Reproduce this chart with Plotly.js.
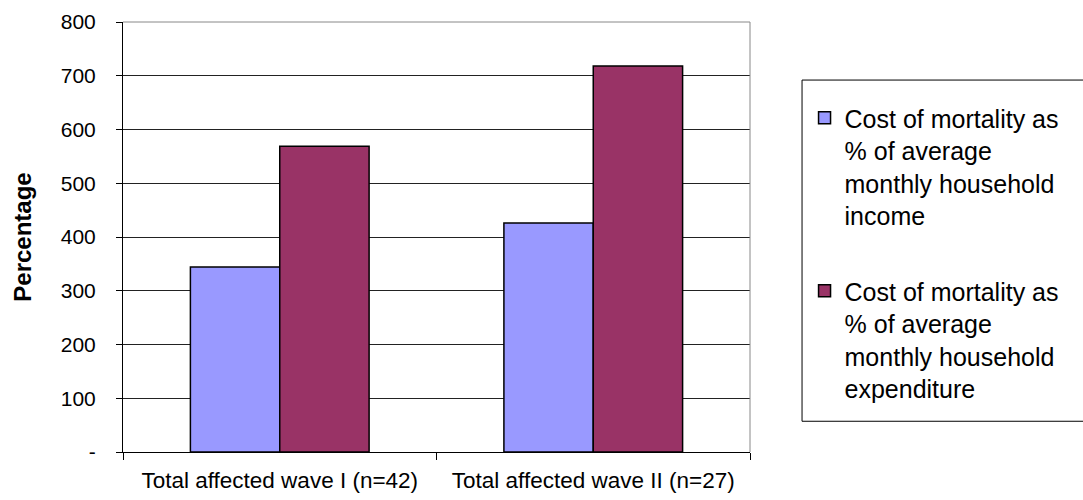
<!DOCTYPE html>
<html>
<head>
<meta charset="utf-8">
<script src="https://cdn.plot.ly/plotly-3.0.1.min.js"></script>
<style>html,body{margin:0;padding:0;background:#fff;}#chart{width:1083px;height:500px;}</style>
</head>
<body>
<div id="chart"></div>
<script>
var categories = ["Total affected wave I (n=42)", "Total affected wave II (n=27)"];
var incomeValues = [344, 426];
var expenditureValues = [569, 718];
var seriesNames = [
  "Cost of mortality as<br>% of average<br>monthly household<br>income",
  "Cost of mortality as<br>% of average<br>monthly household<br>expenditure"
];
var yTickVals = [0, 100, 200, 300, 400, 500, 600, 700, 800];
var yTickText = ["-", "100", "200", "300", "400", "500", "600", "700", "800"];

var font = "Arial, 'Liberation Sans', sans-serif";

var traces = [
  {type: "bar", x: categories, y: incomeValues, name: seriesNames[0], legendgroup: "a",
   marker: {color: "#9999FF", line: {color: "#000", width: 1.5}}},
  {type: "bar", x: categories, y: expenditureValues, name: seriesNames[1], legendgroup: "b",
   marker: {color: "#993366", line: {color: "#000", width: 1.5}}}
];

var layout = {
  width: 1083, height: 500,
  margin: {l: 123, r: 333, t: 22, b: 48, autoexpand: false},
  paper_bgcolor: "#fff", plot_bgcolor: "#fff",
  font: {family: font, size: 21, color: "#000"},
  barmode: "group", bargap: 0.43, bargroupgap: 0,
  showlegend: true,
  hovermode: false,
  xaxis: {
    type: "category", tickson: "boundaries", ticks: "outside", ticklen: 7, tickcolor: "#000",
    showline: true, linecolor: "#000", linewidth: 1, showgrid: false, zeroline: false,
    ticklabelstandoff: 8,
    tickfont: {family: font, size: 22.5, color: "#000"}
  },
  yaxis: {
    range: [0, 800], tickvals: yTickVals, ticktext: yTickText,
    ticks: "outside", ticklen: 6, tickcolor: "#000", ticklabelstandoff: 16,
    showline: true, linecolor: "#000", linewidth: 1,
    showgrid: true, gridcolor: "#222", gridwidth: 1, zeroline: false,
    tickfont: {family: font, size: 21, color: "#000"},
    title: {text: "<b>Percentage</b>", font: {family: font, size: 24, color: "#000"}, standoff: 22}
  },
  legend: {
    x: 1.087, xanchor: "left", y: 0.83, yanchor: "top",
    borderwidth: 0, bgcolor: "rgba(0,0,0,0)",
    font: {family: font, size: 25, color: "#000"},
    tracegroupgap: 40, traceorder: "grouped", valign: "top",
    itemwidth: 30
  },
  shapes: [
    {type: "line", xref: "paper", yref: "paper", x0: 0, x1: 1, y0: 1, y1: 1, line: {color: "#888", width: 1}},
    {type: "line", xref: "paper", yref: "paper", x0: 1, x1: 1, y0: 0, y1: 1, line: {color: "#888", width: 1}},
    {type: "rect", xref: "paper", yref: "paper", x0: 1.083, x1: 1.6, y0: 0.0715, y1: 0.865, line: {color: "#000", width: 1}, fillcolor: "rgba(0,0,0,0)"}
  ]
};

Plotly.newPlot("chart", traces, layout, {displayModeBar: false, staticPlot: true});
</script>
</body>
</html>
